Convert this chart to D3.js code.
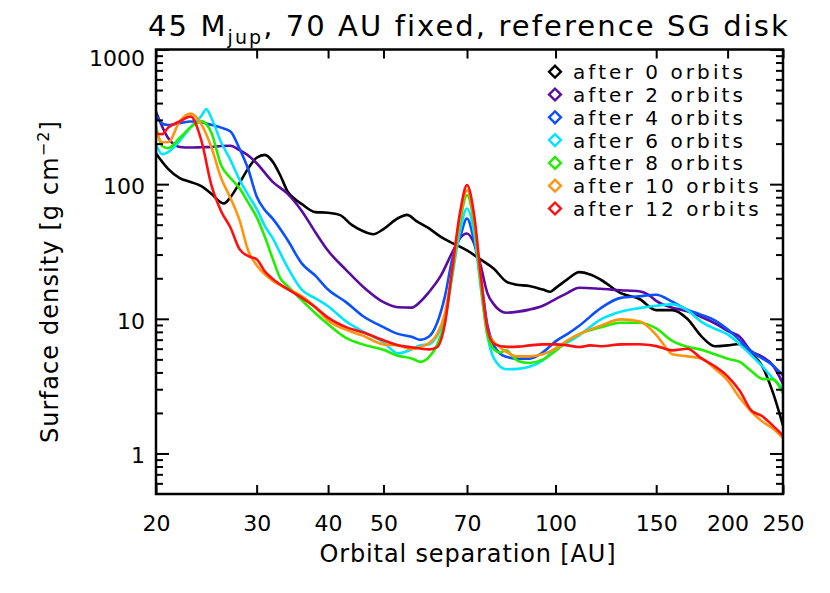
<!DOCTYPE html>
<html><head><meta charset="utf-8">
<script src="https://cdn.jsdelivr.net/npm/d3@7"></script>
<style>body{margin:0;background:#fff} text{font-family:"DejaVu Sans",sans-serif;fill:#000}</style>
</head><body><svg id="c" width="830" height="593"></svg>
<script>
// ---------- data ----------
const seriesNames = ["after 0 orbits","after 2 orbits","after 4 orbits","after 6 orbits","after 8 orbits","after 10 orbits","after 12 orbits"];
const seriesColors = ["#000000","#5a0ca0","#0a50ff","#00e6ff","#22ee00","#ff9410","#ff1010"];

const orbits0 = [[20,169],[21,130],[22,111],[23,103.7],[24,96.6],[25,84.7],[26,73],[26.3,72],[27,80],[28,102],[29,131],[30,157],[31,165],[32,147],[33,116],[34,88],[35,77.5],[36,71],[38,62],[40,61.4],[42,58.9],[44,49.8],[46,44.9],[48,42.5],[50,46.4],[53,55.8],[55,59.1],[57,53.4],[60,47.1],[63,40.6],[66,36.5],[70,32.2],[74,27.5],[78,23.5],[82,18.9],[85,18],[90,17.5],[95,16.5],[98,15.9],[100,16.9],[105,19.7],[110,22.2],[115,21.3],[120,19.5],[130,15.5],[140,14.1],[150,11.6],[160,11.6],[170,10],[180,7.4],[190,6.25],[200,6.35],[210,6.5],[220,5.54],[230,4.44],[240,2.84],[250,1.61]];
const orbits2 = [[20,345],[21,220],[22,189],[23,187],[24,188],[25,189],[26,192],[27,193],[28,179],[29,163],[30,143],[32,104],[34,84.6],[36,63],[38,44],[40,32],[43,23.1],[46,17.4],[50,13.3],[53,12.2],[56,12.1],[58,13.4],[60,15.7],[63,20.9],[66,31.3],[68,39.5],[70,43],[72,36.4],[74,24.6],[76,15.5],[78,12.8],[80,11.5],[82,11.1],[86,11.3],[90,11.7],[95,12.5],[100,14],[105,15.6],[110,17],[120,16.7],[130,16.3],[140,16],[145,15.2],[150,13.6],[160,12.1],[170,11.4],[180,10.3],[190,9.27],[200,8.14],[210,7.35],[220,5.75],[230,5.22],[240,4.51],[250,3.29]];
const orbits4 = [[20,326],[20.5,282],[21,275],[22,284],[23,292],[24,288],[25,276],[26,263],[27,246],[28,183],[29,129],[30,81],[31,64.4],[32,55.4],[34,38.3],[36,25.7],[38,20.9],[40,16.5],[43,13.3],[46,10.5],[50,8.67],[53,7.73],[56,7.35],[58,6.98],[60,7.35],[62,9.23],[64,14.5],[66,28],[68,40],[70,55.6],[72,38],[74,20],[76,9],[78,6.35],[80,5.5],[82,5.22],[86,5.06],[90,5.06],[95,5.63],[100,6.8],[105,7.73],[110,8.88],[120,12],[130,14.3],[140,14.7],[150,15.1],[160,13.4],[170,11.7],[180,10.7],[190,9.75],[200,8.35],[210,6.92],[220,5.73],[230,5.08],[240,4.51],[250,3.8]];
const orbits6 = [[20,198],[20.5,167],[21,173],[22,209],[23,265],[24,320],[24.5,361],[25,310],[26,205],[27,151],[28,108],[29,83],[30,65.5],[31,49.1],[32,39.7],[33,30.7],[34,24],[36,16.4],[38,14.2],[40,12.4],[43,9.58],[46,8.07],[50,6.69],[53,5.54],[56,5.93],[58,6.35],[60,6.46],[62,7.41],[64,10.1],[66,21],[68,44],[70,66],[72,44],[74,17],[76,7.54],[78,5.08],[82,4.22],[86,4.25],[90,4.4],[95,4.91],[100,6.04],[105,6.69],[110,7.54],[120,9.91],[130,11.3],[140,12],[150,12.5],[160,12.8],[170,11.6],[180,9.5],[190,8.43],[200,7.67],[210,6.46],[220,5.36],[230,4.44],[240,3.61],[250,3.04]];
const orbits8 = [[20,270],[20.5,192],[21,185],[22,220],[23,265],[24,294],[25,241],[26,138],[27,111],[28,93.3],[29,72.9],[30,56.9],[31,40.7],[32,28],[33,20],[34,17.5],[36,13.7],[38,11],[40,9.1],[43,7.22],[46,6.46],[50,5.89],[53,5.31],[56,5.08],[58,4.79],[60,5.17],[62,6.35],[64,9.42],[66,22],[68,51],[70,82.8],[72,51],[74,18],[76,7.54],[78,5.93],[80,5.62],[82,5.83],[84,5.31],[86,4.86],[90,4.7],[95,4.97],[100,5.77],[105,6.87],[110,7.7],[120,8.65],[130,9.35],[140,9.35],[150,8.5],[160,6.86],[170,6.2],[180,5.89],[190,5.45],[200,5.06],[210,4.78],[220,4.1],[230,3.58],[240,3.55],[250,2.79]];
const orbits10 = [[20,252],[20.5,205],[21,205],[22,292],[23,334],[24,279],[25,188],[26,111],[27,78.7],[28,54],[29,32],[30,25],[31,21.4],[32,19.2],[34,16.6],[36,14.7],[38,12.2],[40,9.73],[43,8.3],[46,7.5],[50,6.46],[53,6.35],[56,5.95],[58,6.19],[60,6.58],[62,7.63],[64,10.9],[66,23.1],[68,55],[70,90.2],[72,55],[74,20],[76,8.2],[78,6.73],[80,6.14],[82,5.68],[86,5.26],[90,5.26],[95,5.45],[100,6],[105,6.93],[110,7.7],[120,8.9],[130,9.9],[140,9.6],[150,7.6],[155,6.34],[160,5.45],[170,5.26],[180,5.08],[190,4.25],[200,3.49],[210,2.59],[220,2.05],[230,1.73],[240,1.53],[250,1.3]];
const orbits12 = [[20,238],[20.5,235],[21,263],[22,292],[23,318],[24,212],[25,98.3],[26,63],[27,47.5],[28,32.9],[29,29.2],[30,27.7],[31,22.5],[32,19.8],[34,16.6],[36,14.3],[38,12.2],[40,10.2],[43,8.67],[46,7.94],[50,6.92],[53,6.37],[56,6.14],[60,5.93],[62,6.14],[64,9.06],[66,24],[68,60],[70,98.3],[72,60],[74,21],[76,8.5],[78,6.52],[82,6.19],[86,6.21],[90,6.35],[95,6.46],[100,6.46],[105,6.35],[110,6.17],[115,6.35],[120,6.25],[130,6.46],[140,6.48],[150,6.27],[160,5.83],[170,6],[180,5.08],[190,4.44],[200,3.74],[210,2.92],[220,2.09],[230,1.89],[240,1.61],[250,1.36]];
const seriesData = [orbits0, orbits2, orbits4, orbits6, orbits8, orbits10, orbits12];

const xTickValues = [20,30,40,50,70,100,150,200,250];
const yMajorTicks = [1,10,100,1000];
const yMinorTicks = [0.6,0.7,0.8,0.9,2,3,4,5,6,7,8,9,20,30,40,50,60,70,80,90,200,300,400,500,600,700,800,900];
const titleMain = "45 M", titleSub = "jup", titleRest = ", 70 AU fixed, reference SG disk";
const xTitle = "Orbital separation [AU]";
const yTitleMain = "Surface density [g cm", yTitleSup = "\u22122", yTitleEnd = "]";

// ---------- layout ----------
const W = 830, H = 593, L = 156, R = 783, T = 49.5, B = 494;
const svg = d3.select("#c");
svg.append("rect").attr("width", W).attr("height", H).attr("fill", "#fff");

const x = d3.scaleLog().domain([20, 250]).range([L, R]);
const y = d3.scaleLog().domain([0.5, 1000]).range([B, T]);

svg.append("clipPath").attr("id", "clip").append("rect")
  .attr("x", L).attr("y", T).attr("width", R - L).attr("height", B - T);

const line = d3.line().x(d => x(d[0])).y(d => y(d[1])).curve(d3.curveMonotoneX);
svg.append("g").attr("clip-path", "url(#clip)")
  .selectAll("path").data(seriesData).join("path")
  .attr("d", line).attr("fill", "none")
  .attr("stroke", (d, i) => seriesColors[i]).attr("stroke-width", 2.6)
  .attr("stroke-linejoin", "round");

// axes
function styleAxis(g) {
  g.select(".domain").remove();
  g.selectAll(".tick line").attr("stroke", "#000").attr("stroke-width", 2);
  g.attr("font-family", "DejaVu Sans").attr("font-size", 22);
  g.selectAll(".tick text").attr("fill", "#000");
}
svg.append("g").attr("transform", `translate(0,${B})`)
  .call(d3.axisBottom(x).tickValues(xTickValues).tickFormat(d3.format("d")).tickSizeInner(-9).tickSizeOuter(0).tickPadding(21))
  .call(styleAxis);
svg.append("g").attr("transform", `translate(0,${T})`)
  .call(d3.axisTop(x).tickValues(xTickValues).tickFormat("").tickSizeInner(-9).tickSizeOuter(0))
  .call(styleAxis);
const yl = svg.append("g").attr("transform", `translate(${L},0)`)
  .call(d3.axisLeft(y).tickValues(yMajorTicks).tickFormat(d3.format("d")).tickSizeInner(-13).tickSizeOuter(0).tickPadding(11))
  .call(styleAxis);
yl.selectAll(".tick text").attr("dy", d => d === 1000 ? "0.73em" : "0.43em");
svg.append("g").attr("transform", `translate(${L},0)`)
  .call(d3.axisLeft(y).tickValues(yMinorTicks).tickFormat("").tickSizeInner(-7).tickSizeOuter(0))
  .call(styleAxis);
svg.append("g").attr("transform", `translate(${R},0)`)
  .call(d3.axisRight(y).tickValues(yMajorTicks).tickFormat("").tickSizeInner(-13).tickSizeOuter(0))
  .call(styleAxis);
svg.append("g").attr("transform", `translate(${R},0)`)
  .call(d3.axisRight(y).tickValues(yMinorTicks).tickFormat("").tickSizeInner(-7).tickSizeOuter(0))
  .call(styleAxis);

svg.append("rect").attr("x", L).attr("y", T).attr("width", R - L).attr("height", B - T)
  .attr("fill", "none").attr("stroke", "#000").attr("stroke-width", 2.5);

function fit(sel, target, nchars) {
  const w = sel.node().getComputedTextLength();
  sel.attr("letter-spacing", ((target - w) / nchars).toFixed(2));
}

// title
const title = svg.append("text").attr("x", 469).attr("y", 36).attr("text-anchor", "middle").attr("font-size", 29);
title.append("tspan").text(titleMain);
title.append("tspan").attr("font-size", 19).attr("dy", 8).text(titleSub);
title.append("tspan").attr("dy", -8).text(titleRest);
fit(title, 642, (titleMain + titleSub + titleRest).length);

// x title
const xt = svg.append("text").attr("x", 468).attr("y", 562).attr("text-anchor", "middle").attr("font-size", 24).text(xTitle);
fit(xt, 297, xTitle.length);

// y title
const yt = svg.append("text").attr("transform", "translate(58,281.5) rotate(-90)").attr("text-anchor", "middle").attr("font-size", 24);
yt.append("tspan").text(yTitleMain);
yt.append("tspan").attr("font-size", 16).attr("dy", -9).text(yTitleSup);
yt.append("tspan").attr("dy", 9).text(yTitleEnd);
fit(yt, 323, (yTitleMain + yTitleSup + yTitleEnd).length);

// legend
const leg = svg.append("g").selectAll("g").data(seriesNames).join("g")
  .attr("transform", (d, i) => `translate(555,${71.7 + 22.8 * i})`);
leg.append("path").attr("d", d3.symbol().type(d3.symbolSquare).size(70)())
  .attr("transform", "rotate(45)").attr("fill", "none")
  .attr("stroke", (d, i) => seriesColors[i]).attr("stroke-width", 2.4);
const legText = leg.append("text").attr("x", 18).attr("y", 7.5).attr("font-size", 20).text(d => d);
const w0 = legText.nodes()[0].getComputedTextLength();
legText.attr("letter-spacing", ((173 - w0) / seriesNames[0].length).toFixed(2));
</script></body></html>
